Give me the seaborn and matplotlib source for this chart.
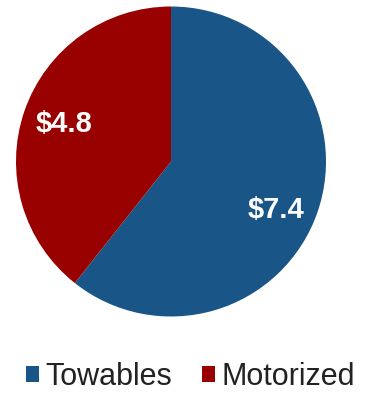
import matplotlib
matplotlib.use("Agg")
import matplotlib.pyplot as plt
import seaborn as sns

# Segment sizes (billions of dollars)
categories = ["Towables", "Motorized"]
values = [7.4, 4.8]
value_labels = ["$7.4", "$4.8"]
colors = ["#195586", "#990000"]

sns.set_theme(style="white")
plt.rcParams["font.family"] = ["Liberation Sans", "DejaVu Sans"]

W, H = 369, 394
fig = plt.figure(figsize=(W / 100, H / 100), dpi=100)

cx, cy, r = 171, 161.5, 155
ax = fig.add_axes([(cx - r) / W, (H - cy - r) / H, 2 * r / W, 2 * r / H])

wedges, texts = ax.pie(
    values,
    labels=value_labels,
    colors=colors,
    startangle=90,
    counterclock=False,
    labeldistance=0.73,
    wedgeprops=dict(linewidth=0),
    textprops=dict(color="white", fontsize=21, fontweight="bold"),
)
for t in texts:
    t.set_horizontalalignment("center")
    t.set_verticalalignment("center")
# drop the larger slice's label a little lower inside its wedge
x0, y0 = texts[0].get_position()
texts[0].set_position((x0 - 0.01, y0 - 0.075))
ax.set_xlim(-1, 1)
ax.set_ylim(-1, 1)
ax.set_aspect("equal")
ax.axis("off")

fig.legend(
    wedges,
    categories,
    loc="center",
    bbox_to_anchor=(190.5 / W, 1 - 377 / H),
    ncol=2,
    frameon=False,
    fontsize=22,
    handlelength=0.42,
    handleheight=0.42,
    handletextpad=0.2,
    columnspacing=1.0,
    borderpad=0,
    labelcolor="#222222",
)

fig.savefig("out.png", dpi=100, facecolor="white")
